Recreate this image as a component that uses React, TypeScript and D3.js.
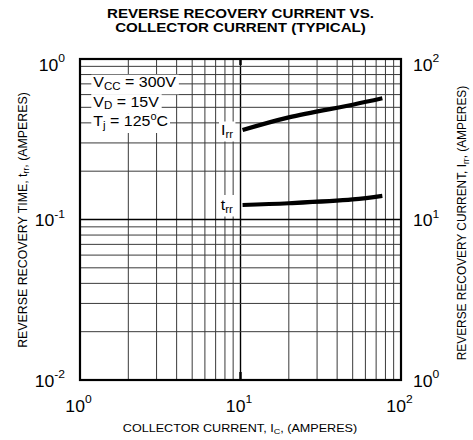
import React, { useEffect, useRef } from 'react';
import * as d3 from 'd3';

// ---- data ----
const IC_IRR = [10.3, 20, 50, 76.5];
const IRR = [36.1, 43.3, 51.9, 56.9];
const IC_TRR = [10.3, 20, 50, 76.5];
const TRR = [0.1231, 0.1263, 0.1334, 0.1405];
const X_TICKS = [1, 10, 100];
const Y_LEFT_TICKS = [0.01, 0.1, 1];
const Y_RIGHT_TICKS = [1, 10, 100];
const TITLE_LINES = ['REVERSE RECOVERY CURRENT VS.', 'COLLECTOR CURRENT (TYPICAL)'];

const W = 473;
const H = 440;
const PL = 80, PR = 401, PT = 59, PB = 380;
const FONT = "'Liberation Sans', Arial, Helvetica, sans-serif";

const x = d3.scaleLog().domain([1, 100]).range([PL, PR]);
const yL = d3.scaleLog().domain([0.01, 1]).range([PB, PT]);
const yR = d3.scaleLog().domain([1, 100]).range([PB, PT]);

const exp = (v: number) => String(Math.round(Math.log10(v)));

function TickLabel({ tx, ty, v, anchor }: { tx: number; ty: number; v: number; anchor: string }) {
  return (
    <g transform={`translate(${tx},${ty}) scale(1.1,1)`}>
      <text textAnchor={anchor} fontSize={16} fontFamily={FONT} fill="#000">
        <tspan>10</tspan>
        <tspan fontSize={11} dy={-8.5}>{exp(v)}</tspan>
      </text>
    </g>
  );
}

export default function App() {
  const ref = useRef<SVGSVGElement>(null);

  useEffect(() => {
    const svg = d3.select(ref.current);
    svg.selectAll<SVGGElement, unknown>('g.boxed').each(function () {
      const g = d3.select(this);
      const t = g.select<SVGTextElement>('text').node();
      if (!t) return;
      const bb = t.getBBox();
      const by = +g.attr('data-by');
      const bh = +g.attr('data-bh');
      g.selectAll('rect.bg').remove();
      g.insert('rect', 'text')
        .attr('class', 'bg')
        .attr('x', bb.x - 1.8)
        .attr('y', by)
        .attr('width', bb.width + 3.6)
        .attr('height', bh)
        .attr('fill', '#fff');
    });
  }, []);

  const line = d3
    .line<[number, number]>()
    .x((d) => d[0])
    .y((d) => d[1])
    .curve(d3.curveCatmullRom.alpha(0.5));

  const irrPath = line(IC_IRR.map((c, i) => [x(c), yR(IRR[i])] as [number, number])) || '';
  const trrPath = line(IC_TRR.map((c, i) => [x(c), yL(TRR[i])] as [number, number])) || '';

  const xGrid = x.ticks();
  const yGrid = yL.ticks();

  return (
    <div style={{ position: 'absolute', left: 0, top: 0 }}>
      <svg ref={ref} width={W} height={H} style={{ display: 'block', background: '#fff' }}>
        {/* title */}
        {TITLE_LINES.map((t, i) => (
          <g key={t} transform={`translate(240.5,${18.3 + i * 13.2}) scale(1.23,1)`}>
            <text textAnchor="middle" fontSize={12.3} fontWeight="bold" fontFamily={FONT} fill="#000">
              {t}
            </text>
          </g>
        ))}

        {/* grid */}
        {xGrid.map((v) => (
          <line
            key={'x' + v}
            x1={x(v)}
            x2={x(v)}
            y1={PT}
            y2={PB}
            stroke={v === 10 ? '#000' : '#3a3a3a'}
            strokeWidth={v === 10 ? 1.4 : 1}
          />
        ))}
        {yGrid.map((v) => (
          <line
            key={'y' + v}
            x1={PL}
            x2={PR}
            y1={yL(v)}
            y2={yL(v)}
            stroke={Math.abs(v - 0.1) < 1e-9 ? '#000' : '#3a3a3a'}
            strokeWidth={Math.abs(v - 0.1) < 1e-9 ? 1.4 : 1}
          />
        ))}
        {/* small ticks at decade */}
        <line x1={x(10)} x2={x(10)} y1={PB - 8} y2={PB} stroke="#000" strokeWidth={2.4} />
        <line x1={x(10)} x2={x(10)} y1={PT} y2={PT + 6} stroke="#000" strokeWidth={2.4} />

        {/* frame */}
        <rect x={PL} y={PT} width={PR - PL} height={PB - PT} fill="none" stroke="#000" strokeWidth={2.2} />

        {/* conditions */}
        <g className="boxed" data-by={-12.6} data-bh={19.6} transform="translate(93.3,87.3) scale(1.1,1)">
          <text fontSize={14.5} fontFamily={FONT} fill="#000">
            <tspan>V</tspan>
            <tspan fontSize={10.5} dy={2.5}>CC</tspan>
            <tspan dy={-2.5}> = 300V</tspan>
          </text>
        </g>
        <g className="boxed" data-by={-12.6} data-bh={19.6} transform="translate(93.3,106.7) scale(1.1,1)">
          <text fontSize={14.5} fontFamily={FONT} fill="#000">
            <tspan>V</tspan>
            <tspan fontSize={10.5} dy={2.5}>D</tspan>
            <tspan dy={-2.5}> = 15V</tspan>
          </text>
        </g>
        <g className="boxed" data-by={-12.6} data-bh={19.6} transform="translate(93.3,126) scale(1.1,1)">
          <text fontSize={14.5} fontFamily={FONT} fill="#000">
            <tspan>T</tspan>
            <tspan fontSize={10.5} dy={2.5}>j</tspan>
            <tspan dy={-2.5}> = 125</tspan>
            <tspan fontSize={10} dy={-6}>o</tspan>
            <tspan dy={6}>C</tspan>
          </text>
        </g>

        {/* curve labels */}
        <g className="boxed" data-by={-13.5} data-bh={20} transform="translate(221,135) scale(1.1,1)">
          <text fontSize={14.5} fontFamily={FONT} fill="#000">
            <tspan>I</tspan>
            <tspan fontSize={10.5} dy={3}>rr</tspan>
          </text>
        </g>
        <g className="boxed" data-by={-15} data-bh={21.5} transform="translate(220.7,210) scale(1.1,1)">
          <text fontSize={14.5} fontFamily={FONT} fill="#000">
            <tspan>t</tspan>
            <tspan fontSize={10.5} dy={3}>rr</tspan>
          </text>
        </g>

        {/* curves */}
        <path d={irrPath} fill="none" stroke="#000" strokeWidth={4.2} />
        <path d={trrPath} fill="none" stroke="#000" strokeWidth={4.2} />

        {/* tick labels */}
        {X_TICKS.map((v) => (
          <TickLabel key={'xt' + v} tx={x(v) - 1.5} ty={411.7} v={v} anchor="middle" />
        ))}
        {Y_LEFT_TICKS.map((v) => (
          <TickLabel key={'yl' + v} tx={65} ty={Math.max(yL(v) + 6.8, PT + 11.7)} v={v} anchor="end" />
        ))}
        {Y_RIGHT_TICKS.map((v) => (
          <TickLabel key={'yr' + v} tx={413} ty={Math.max(yR(v) + 6.8, PT + 11.7)} v={v} anchor="start" />
        ))}

        {/* axis titles */}
        <g transform="translate(240,431.7) scale(1.145,1)">
          <text textAnchor="middle" fontSize={11} fontFamily={FONT} fill="#000">
            <tspan>COLLECTOR CURRENT, I</tspan>
            <tspan fontSize={8} dy={2.5}>C</tspan>
            <tspan dy={-2.5}>, (AMPERES)</tspan>
          </text>
        </g>
        <g transform="translate(26.5,220) rotate(-90) scale(1.03,1)">
          <text textAnchor="middle" fontSize={12} fontFamily={FONT} fill="#000">
            <tspan>REVERSE RECOVERY TIME, t</tspan>
            <tspan fontSize={8.5} dy={2.5}>rr</tspan>
            <tspan dy={-2.5}>, (AMPERES)</tspan>
          </text>
        </g>
        <g transform="translate(466,223) rotate(-90) scale(0.99,1)">
          <text textAnchor="middle" fontSize={12} fontFamily={FONT} fill="#000">
            <tspan>REVERSE RECOVERY CURRENT, I</tspan>
            <tspan fontSize={8.5} dy={2.5}>rr</tspan>
            <tspan dy={-2.5}>, (AMPERES)</tspan>
          </text>
        </g>
      </svg>
    </div>
  );
}
